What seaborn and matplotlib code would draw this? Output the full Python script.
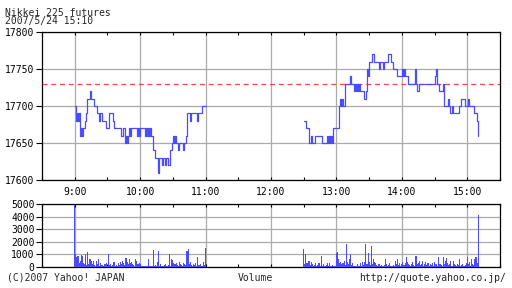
import numpy as np
import pandas as pd
import matplotlib
matplotlib.use("Agg")
import matplotlib.pyplot as plt
import seaborn as sns
from matplotlib.ticker import FixedLocator, FuncFormatter

# ---------------- data ----------------
title_lines = ["Nikkei 225 futures", "2007/5/24 15:10"]
prev_close = 17730

am_start = 9.0          # 9:00, one value per minute
am_prices = [
    17700, 17680, 17690, 17680, 17690, 17660, 17670, 17660, 17670, 17680,
    17690, 17710, 17710, 17710, 17720, 17710, 17710, 17710, 17700, 17700,
    17690, 17690, 17680, 17690, 17690, 17680, 17680, 17680, 17680, 17670,
    17670, 17690, 17690, 17690, 17690, 17680, 17670, 17670, 17670, 17670,
    17670, 17670, 17660, 17660, 17670, 17670, 17650, 17660, 17650, 17660,
    17670, 17660, 17670, 17670, 17670, 17670, 17670, 17660, 17670, 17660,
    17670, 17670, 17670, 17670, 17660, 17670, 17660, 17670, 17660, 17670,
    17660, 17660, 17640, 17640, 17630, 17630, 17610, 17630, 17630, 17630,
    17620, 17630, 17630, 17620, 17630, 17630, 17620, 17640, 17640, 17650,
    17660, 17650, 17660, 17650, 17650, 17640, 17650, 17650, 17650, 17640,
    17650, 17650, 17660, 17690, 17690, 17690, 17680, 17690, 17690, 17690,
    17690, 17690, 17680, 17690, 17690, 17690, 17690, 17700, 17700, 17700,
    17700,
]
pm_start = 12.5         # 12:30, one value per minute
pm_prices = [
    17680, 17680, 17670, 17670, 17670, 17650, 17650, 17660, 17650, 17650,
    17660, 17660, 17660, 17660, 17660, 17660, 17660, 17650, 17650, 17650,
    17650, 17660, 17650, 17660, 17650, 17660, 17650, 17670, 17670, 17670,
    17670, 17670, 17700, 17710, 17700, 17710, 17700, 17700, 17730, 17730,
    17730, 17730, 17740, 17730, 17730, 17730, 17720, 17730, 17720, 17730,
    17720, 17730, 17720, 17720, 17720, 17710, 17710, 17720, 17750, 17740,
    17760, 17760, 17760, 17770, 17760, 17760, 17760, 17760, 17760, 17750,
    17760, 17760, 17760, 17750, 17760, 17760, 17760, 17770, 17770, 17770,
    17760, 17760, 17750, 17750, 17750, 17750, 17740, 17740, 17740, 17740,
    17750, 17740, 17750, 17740, 17740, 17740, 17730, 17730, 17730, 17730,
    17730, 17730, 17750, 17730, 17720, 17720, 17730, 17730, 17730, 17730,
    17730, 17730, 17730, 17730, 17730, 17730, 17730, 17730, 17730, 17730,
    17740, 17750, 17730, 17730, 17720, 17720, 17720, 17720, 17730, 17700,
    17700, 17700, 17710, 17700, 17690, 17690, 17700, 17690, 17690, 17690,
    17690, 17690, 17700, 17700, 17710, 17710, 17710, 17710, 17700, 17700,
    17700, 17710, 17700, 17700, 17700, 17700, 17690, 17690, 17690, 17680,
    17660,
]
am_volume = [
    4900, 1000, 800, 900, 300, 500, 950, 900, 300, 200,
    1000, 150, 1200, 200, 600, 500, 200, 500, 150, 100,
    500, 200, 600, 100, 300, 150, 100, 200, 200, 300,
    100, 1000, 150, 200, 100, 150, 400, 100, 150, 100,
    300, 150, 400, 200, 500, 300, 150, 700, 400, 200,
    600, 300, 400, 200, 150, 100, 600, 450, 200, 300,
    200, 100, 50, 100, 80, 50, 100, 60, 600, 100,
    80, 100, 1350, 100, 150, 100, 400, 1250, 100, 200,
    100, 80, 150, 200, 100, 80, 150, 1000, 100, 600,
    550, 300, 200, 350, 150, 100, 400, 200, 150, 100,
    300, 200, 150, 1300, 1400, 200, 400, 150, 100, 200,
    150, 300, 100, 800, 150, 200, 100, 100, 400, 150,
    1500,
]
pm_volume = [
    1450, 200, 1050, 300, 500, 500, 150, 400, 200, 100,
    150, 300, 100, 150, 300, 100, 900, 100, 200, 80,
    100, 150, 300, 100, 300, 80, 150, 100, 50, 100,
    1100, 1200, 600, 300, 400, 200, 300, 500, 150, 1850,
    400, 200, 600, 1000, 150, 300, 100, 80, 100, 200,
    100, 80, 300, 100, 400, 150, 400, 1850, 200, 1100,
    400, 150, 1700, 200, 600, 400, 300, 150, 100, 200,
    100, 150, 80, 100, 150, 600, 200, 100, 150, 300,
    100, 80, 150, 100, 500, 200, 600, 150, 300, 100,
    200, 400, 150, 300, 800, 400, 200, 150, 100, 200,
    400, 150, 100, 900, 200, 300, 500, 150, 200, 500,
    100, 200, 400, 150, 300, 100, 200, 150, 300, 100,
    400, 150, 200, 100, 800, 200, 150, 100, 800, 200,
    500, 700, 300, 150, 200, 500, 100, 500, 200, 150,
    100, 200, 150, 600, 100, 150, 200, 100, 150, 300,
    800, 200, 400, 100, 600, 200, 150, 600, 800, 300,
    4100,
]
hour_ticks = [9, 10, 11, 12, 13, 14, 15]
hour_labels = ["9:00", "10:00", "11:00", "12:00", "13:00", "14:00", "15:00"]
price_ticks = [17600, 17650, 17700, 17750, 17800]
volume_ticks = [0, 1000, 2000, 3000, 4000, 5000]
footer_left = "(C)2007 Yahoo! JAPAN"
footer_mid = "Volume"
footer_right = "http://quote.yahoo.co.jp/"

# ---------------- tables ----------------
def session_frame(start, prices, vols, name):
    t = start + np.arange(len(prices)) / 60.0
    return pd.DataFrame({"t": t, "price": prices, "vol": vols, "session": name})

df = pd.concat([session_frame(am_start, am_prices, am_volume, "am"),
                session_frame(pm_start, pm_prices, pm_volume, "pm")],
               ignore_index=True)

# ---------------- style ----------------
sns.set_theme(style="white")
plt.rcParams["font.family"] = ["DejaVu Sans Mono"]
plt.rcParams["font.size"] = 7

BLUE = "#4c4cff"
GRID = "#aaaaaa"
W, H = 512, 288

fig = plt.figure(figsize=(W / 100, H / 100), dpi=100)
fig.patch.set_facecolor("white")

def rect(x0, y0, x1, y1):
    return [x0 / W, 1 - y1 / H, (x1 - x0) / W, (y1 - y0) / H]

ax = fig.add_axes(rect(42, 32, 500, 180))
axv = fig.add_axes(rect(42, 204, 500, 267))

for a in (ax, axv):
    a.set_facecolor("white")
    for s in a.spines.values():
        s.set_color("black")
        s.set_linewidth(0.9)
    a.set_xlim(8.5, 15.5)
    a.xaxis.set_major_locator(FixedLocator(hour_ticks))
    a.xaxis.set_minor_locator(FixedLocator([h + 0.5 for h in range(8, 16)]))
    a.grid(True, which="major", color=GRID, linewidth=0.9)
    a.set_axisbelow(True)
    a.tick_params(axis="x", which="both", direction="in", top=True, bottom=True,
                  length=2.5, width=0.8, color="black")
    a.tick_params(axis="y", which="major", direction="out", left=True, right=False,
                  length=4.3, width=0.8, color="black", labelsize=7, pad=1,
                  labelcolor="black")

# price panel
ax.set_ylim(17600, 17800)
ax.yaxis.set_major_locator(FixedLocator(price_ticks))
ax.yaxis.set_major_formatter(FuncFormatter(lambda v, p: f"{int(v)}"))
ax.axhline(prev_close, color="#ff4040", linewidth=0.9, dashes=(4, 3), zorder=2)
for name, sub in df.groupby("session"):
    sns.lineplot(data=sub, x="t", y="price", ax=ax, color=BLUE, linewidth=0.9,
                 drawstyle="steps-post", sort=False, estimator=None, zorder=3)
ax.set_xticklabels(hour_labels)
ax.tick_params(axis="x", labelsize=7, pad=5, labelcolor="black")
ax.set_xlabel("")
ax.set_ylabel("")

# volume panel
for name, sub in df.groupby("session"):
    lo = float(sub["t"].min()) - 1 / 120
    hi = float(sub["t"].max()) + 1 / 120
    sns.histplot(data=sub, x="t", weights="vol", ax=axv, color=BLUE,
                 binwidth=1 / 60, binrange=(lo, hi),
                 shrink=1.0, linewidth=0, alpha=1, element="bars", zorder=3)
axv.set_ylim(0, 5000)
axv.yaxis.set_major_locator(FixedLocator(volume_ticks))
axv.yaxis.set_major_formatter(FuncFormatter(lambda v, p: f"{int(v)}"))
axv.set_xticklabels([])
axv.set_xlabel("")
axv.set_ylabel("")

# texts
fig.text(5 / W, 1 - 15.5 / H, title_lines[0], fontsize=7, ha="left", va="baseline")
fig.text(5 / W, 1 - 24 / H, title_lines[1], fontsize=7, ha="left", va="baseline")
fig.text(7 / W, 1 - 281 / H, footer_left, fontsize=7, ha="left", va="baseline")
fig.text(255.5 / W, 1 - 281 / H, footer_mid, fontsize=7, ha="center", va="baseline")
fig.text(506 / W, 1 - 281 / H, footer_right, fontsize=7, ha="right", va="baseline")

fig.savefig("out.png", dpi=100, facecolor="white")
